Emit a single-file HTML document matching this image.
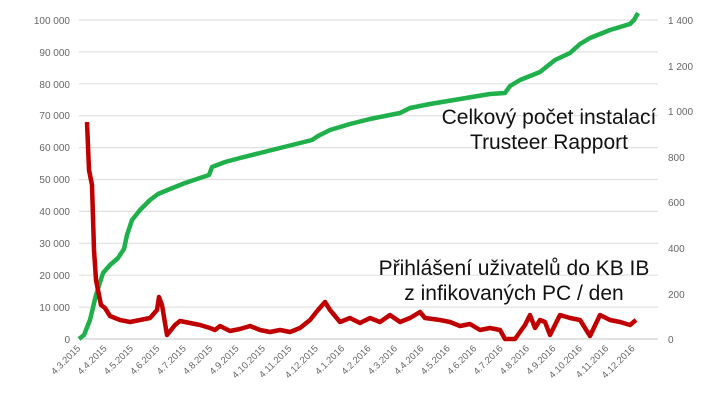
<!DOCTYPE html>
<html><head><meta charset="utf-8"><style>
body{margin:0;background:#fff}
svg text{font-family:"Liberation Sans",sans-serif}
</style></head><body>
<svg width="720" height="400" viewBox="0 0 720 400" xmlns="http://www.w3.org/2000/svg">
<g stroke="#e0e0e0" stroke-width="1.2">
<line x1="79" x2="658" y1="20" y2="20"/><line x1="79" x2="658" y1="51.9" y2="51.9"/><line x1="79" x2="658" y1="83.8" y2="83.8"/><line x1="79" x2="658" y1="115.7" y2="115.7"/><line x1="79" x2="658" y1="147.6" y2="147.6"/><line x1="79" x2="658" y1="179.5" y2="179.5"/><line x1="79" x2="658" y1="211.4" y2="211.4"/><line x1="79" x2="658" y1="243.3" y2="243.3"/><line x1="79" x2="658" y1="275.2" y2="275.2"/><line x1="79" x2="658" y1="307.1" y2="307.1"/><line x1="79" x2="658" y1="339" y2="339" stroke="#d0d0d0"/>
</g>
<g font-size="10" fill="#666" text-anchor="end">
<text x="70" y="24">100 000</text><text x="70" y="56">90 000</text><text x="70" y="88">80 000</text><text x="70" y="119">70 000</text><text x="70" y="151">60 000</text><text x="70" y="183">50 000</text><text x="70" y="215">40 000</text><text x="70" y="247">30 000</text><text x="70" y="279">20 000</text><text x="70" y="311">10 000</text><text x="70" y="343">0</text>
</g>
<g font-size="10" fill="#666">
<text x="668" y="24">1 400</text><text x="668" y="70">1 200</text><text x="668" y="115">1 000</text><text x="668" y="161">800</text><text x="668" y="206">600</text><text x="668" y="252">400</text><text x="668" y="298">200</text><text x="668" y="343">0</text>
</g>
<g font-size="9.5" fill="#666" text-anchor="end">
<text transform="translate(81,349) rotate(-45)">4.3.2015</text>
<text transform="translate(107.4,349) rotate(-45)">4.4.2015</text>
<text transform="translate(133.8,349) rotate(-45)">4.5.2015</text>
<text transform="translate(160.2,349) rotate(-45)">4.6.2015</text>
<text transform="translate(186.6,349) rotate(-45)">4.7.2015</text>
<text transform="translate(213,349) rotate(-45)">4.8.2015</text>
<text transform="translate(239.4,349) rotate(-45)">4.9.2015</text>
<text transform="translate(265.8,349) rotate(-45)">4.10.2015</text>
<text transform="translate(292.2,349) rotate(-45)">4.11.2015</text>
<text transform="translate(318.6,349) rotate(-45)">4.12.2015</text>
<text transform="translate(345,349) rotate(-45)">4.1.2016</text>
<text transform="translate(371.4,349) rotate(-45)">4.2.2016</text>
<text transform="translate(397.8,349) rotate(-45)">4.3.2016</text>
<text transform="translate(424.2,349) rotate(-45)">4.4.2016</text>
<text transform="translate(450.6,349) rotate(-45)">4.5.2016</text>
<text transform="translate(477,349) rotate(-45)">4.6.2016</text>
<text transform="translate(503.4,349) rotate(-45)">4.7.2016</text>
<text transform="translate(529.8,349) rotate(-45)">4.8.2016</text>
<text transform="translate(556.2,349) rotate(-45)">4.9.2016</text>
<text transform="translate(582.6,349) rotate(-45)">4.10.2016</text>
<text transform="translate(609,349) rotate(-45)">4.11.2016</text>
<text transform="translate(635.4,349) rotate(-45)">4.12.2016</text>
</g>
<polyline fill="none" stroke="#1fb04b" stroke-width="4.5" stroke-linejoin="round" points="79,339 84,335 90,320 96,295 103,273 110,265 118,258 124,249 127,235 132,220 140,210 150,200 158,194 170,189 185,183 200,178 209,175 212,167 225,162 240,158 260,153 280,148 300,143 312,140 318,136 330,130 350,124 370,119 390,115 400,113 410,108 430,104 460,99 490,94 505,93 510,86 520,80 540,72 555,60 570,53 580,44 590,38 610,30 630,24 634,20 638,13"/>
<polyline fill="none" stroke="#c00000" stroke-width="4.5" stroke-linejoin="round" points="87,122 89,170 92,185 94,250 96,280 98,290 101,305 105,308 110,316 120,320 130,322 140,320 150,318 157,310 159,297 162,305 167,335 175,325 180,321 190,323 200,325 210,328 215,330 220,326 230,331 240,329 250,326 260,330 270,332 280,330 290,332 300,328 310,320 318,310 325,302 330,310 340,322 350,318 360,323 370,318 380,322 390,315 400,322 410,318 420,312 425,318 440,320 450,322 460,326 470,324 480,330 490,328 500,330 505,339 515,339 525,325 530,315 535,328 540,320 545,322 550,335 560,315 570,318 580,320 590,336 600,315 610,320 620,322 630,325 636,320"/>
<g font-size="21" fill="#111" text-anchor="middle">
<text x="549" y="124">Celkový počet instalací</text>
<text x="549" y="149">Trusteer Rapport</text>
<text x="514" y="275">Přihlášení uživatelů do KB IB</text>
<text x="514" y="300">z infikovaných PC / den</text>
</g>
</svg>
</body></html>
